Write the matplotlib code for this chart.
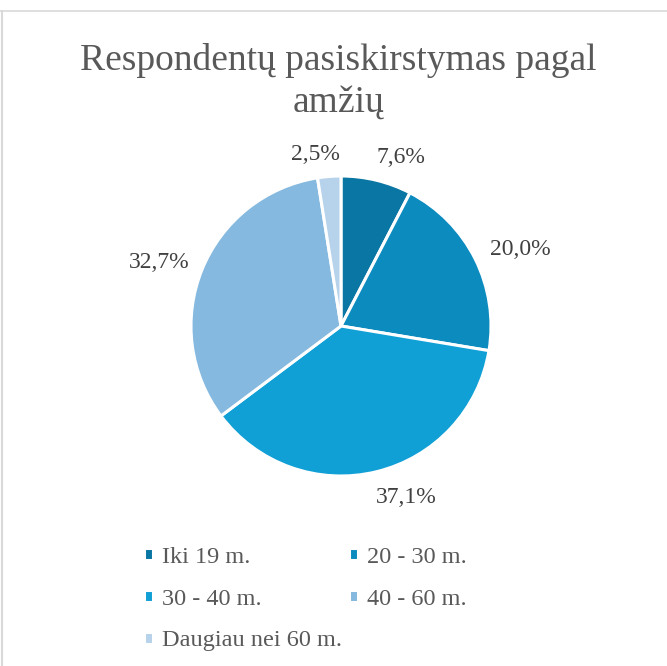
import numpy as np
import matplotlib.pyplot as plt
from matplotlib.lines import Line2D

# duomenys
categories = ['Iki 19 m.', '20 - 30 m.', '30 - 40 m.', '40 - 60 m.', 'Daugiau nei 60 m.']
shares = [7.6, 20.0, 37.1, 32.7, 2.5]
colors = ['#0A76A3', '#0C8BBF', '#10A0D6', '#85B9DF', '#B7D3EB']

plt.rcParams['font.family'] = ['Liberation Serif', 'DejaVu Serif']

fig = plt.figure(figsize=(6.67, 6.66), dpi=100)
ax = fig.add_axes([0, 0, 1, 1])

cx, cy, r = 341, 666 - 326, 150
wedges, texts = ax.pie(shares, colors=colors, startangle=90, counterclock=False,
                       center=(cx, cy), radius=r, frame=True,
                       wedgeprops=dict(edgecolor='white', linewidth=2.2))
ax.set_xlim(0, 667)
ax.set_ylim(0, 666)
ax.axis('off')

# etiketes uz skritulio (atstumas ir kampo poslinkis kaip Excel "best fit")
start = 90.0
dist = [1.19, 1.30, 1.22, 1.28, 1.155]
shift = [-6.0, -3.7, 6.9, 2.6, 3.5]
for v, d, s in zip(shares, dist, shift):
    mid = np.deg2rad(start - v * 3.6 / 2 + s)
    start -= v * 3.6
    x = cx + d * r * np.cos(mid)
    y = cy + d * r * np.sin(mid)
    ax.text(x, y, f'{v:.1f}%'.replace('.', ','), ha='center', va='center',
            fontsize=17, color='#404040')

fig.text(0.507, 0.878, 'Respondentų pasiskirstymas pagal\namžių', ha='center', va='center',
         fontsize=27, color='#595959', linespacing=1.27)

# legenda eilutemis (matplotlib pildo stulpeliais)
order = [0, 2, 4, 1, 3]
leg = fig.legend([wedges[i] for i in order], [categories[i] for i in order],
                 ncol=2, loc='upper left',
                 bbox_to_anchor=(0.183, 0.212), frameon=False, fontsize=17.5,
                 handlelength=0.36, handleheight=0.36, handletextpad=0.38,
                 columnspacing=0.3, labelspacing=0.86, labelcolor='#595959')

# remelio krastai
fig.add_artist(Line2D([0, 1], [1 - 10.5 / 666] * 2, color='#D9D9D9', lw=1.2))
fig.add_artist(Line2D([2 / 667] * 2, [0, 1 - 10.5 / 666], color='#D9D9D9', lw=1.5))

fig.savefig('out.png', dpi=100)
